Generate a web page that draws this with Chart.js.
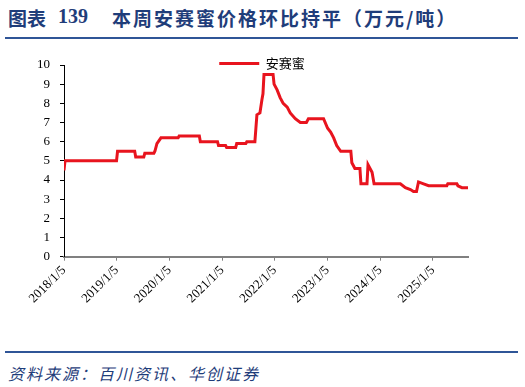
<!DOCTYPE html>
<html>
<head>
<meta charset="utf-8">
<script src="https://cdn.jsdelivr.net/npm/chart.js@4.4.0/dist/chart.umd.min.js"></script>
<style>
  html, body { margin: 0; padding: 0; background: #fff; }
  #page { position: relative; width: 525px; height: 387px; overflow: hidden; }
  .t { position: absolute; top: 4px; color: #1f3d7a; font-weight: bold; font-size: 19px; white-space: nowrap; font-family: 'Noto Sans CJK SC', sans-serif; }
  .num { font-family: 'Liberation Serif', serif; font-size: 20px; }
  .rule { position: absolute; left: 5px; width: 513px; height: 2px; background: #2f5597; }
  .src { position: absolute; left: 8px; top: 361px; font-size: 16px; letter-spacing: 2px; font-style: italic; color: #1f3d7a; font-family: 'Noto Sans CJK SC', sans-serif; white-space: nowrap; }
  #wrap { position: absolute; left: 0; top: 40px; width: 525px; height: 310px; }
</style>
</head>
<body>
<div id="page">
  <div class="t" style="left:8px">图表</div>
  <div class="t num" style="left:58px;top:5px">139</div>
  <div class="t" style="left:112px;letter-spacing:2px">本周安赛蜜价格环比持平（万元/吨）</div>
  <div class="rule" style="top:37px"></div>
  <div id="wrap"><canvas id="chart-ansaimi"></canvas></div>
  <div class="rule" style="top:351px"></div>
  <div class="src">资料来源：百川资讯、华创证券</div>
</div>
<script>
// 安赛蜜 price, 万元/吨, corner points
const dates = [
  '2018/1/5', '2018/1/12', '2019/1/4', '2019/1/11', '2019/5/10', '2019/5/17',
  '2019/7/12', '2019/7/19', '2019/9/20', '2019/9/27', '2019/10/11', '2019/11/8',
  '2020/3/6', '2020/3/13', '2020/7/31', '2020/8/7', '2020/12/4', '2020/12/11',
  '2021/1/29', '2021/2/5', '2021/4/9', '2021/4/16', '2021/6/18', '2021/6/25',
  '2021/8/20', '2021/8/27', '2021/9/3', '2021/9/24', '2021/10/8', '2021/10/15',
  '2021/10/22', '2021/12/24', '2021/12/31', '2022/1/21', '2022/2/11', '2022/3/4',
  '2022/4/1', '2022/4/22', '2022/5/27', '2022/7/1', '2022/8/12', '2022/8/26',
  '2022/12/9', '2023/1/6', '2023/1/27', '2023/2/17', '2023/3/10', '2023/4/7',
  '2023/6/16', '2023/6/23', '2023/7/14', '2023/8/18', '2023/8/25', '2023/10/6',
  '2023/10/13', '2023/11/10', '2023/11/24', '2024/5/24', '2024/6/28', '2024/8/2',
  '2024/8/23', '2024/9/13', '2024/9/27', '2024/11/1', '2024/12/6', '2025/4/11',
  '2025/4/18', '2025/6/20', '2025/6/27', '2025/7/25', '2025/9/5'
];
const prices = [
  4.5, 5.0, 5.0, 5.5, 5.5, 5.2,
  5.2, 5.4, 5.4, 5.5, 5.9, 6.2,
  6.2, 6.3, 6.3, 6.0, 6.0, 5.8,
  5.8, 5.7, 5.7, 5.9, 5.9, 6.0,
  6.0, 6.7, 7.4, 7.5, 8.2, 8.5,
  9.5, 9.5, 9.0, 8.7, 8.3, 8.0,
  7.8, 7.5, 7.2, 7.0, 7.0, 7.2,
  7.2, 6.7, 6.5, 6.2, 5.8, 5.5,
  5.5, 4.9, 4.6, 4.6, 3.8, 3.8,
  4.8, 4.4, 3.8, 3.8, 3.6, 3.5,
  3.4, 3.4, 3.9, 3.8, 3.7, 3.7,
  3.8, 3.8, 3.7, 3.6, 3.6
];
const tickLabels = ['2018/1/5', '2019/1/5', '2020/1/5', '2021/1/5', '2022/1/5', '2023/1/5', '2024/1/5', '2025/1/5'];
const seriesName = '安赛蜜';

function toMs(s) {
  const [y, m, d] = s.split('/').map(Number);
  return Date.UTC(y, m - 1, d);
}

const axisFont = { family: "'Liberation Serif', 'Times New Roman', serif", size: 13 };

// legend overlaps the top edge of the plot: no layout height, box moved after layout
const legendOverlay = {
  id: 'legendOverlay',
  beforeInit(chart) {
    const fit = chart.legend.fit;
    chart.legend.fit = function () { fit.call(this); this.height = 0; };
  },
  afterLayout(chart) {
    const lg = chart.legend;
    lg.left = 56;
    lg.width = lg.right - lg.left;
    lg.top = 17;
    lg.bottom = 40;
    lg.height = 23;
  }
};

new Chart(document.getElementById('chart-ansaimi'), {
  type: 'line',
  data: {
    datasets: [{
      label: seriesName,
      data: dates.map((d, i) => ({ x: toMs(d), y: prices[i] })),
      borderColor: '#e8141e',
      backgroundColor: '#e8141e',
      borderWidth: 3,
      pointRadius: 0,
      tension: 0,
      fill: false
    }]
  },
  plugins: [legendOverlay],
  options: {
    responsive: true,
    maintainAspectRatio: false,
    animation: false,
    layout: { padding: { top: 25, right: 57, left: 0, bottom: 0 } },
    plugins: {
      tooltip: { enabled: false },
      legend: {
        position: 'top',
        align: 'center',
        labels: {
          usePointStyle: true,
          pointStyle: 'line',
          pointStyleWidth: 40,
          color: '#000',
          padding: 0,
          font: { family: "'Noto Sans CJK SC', sans-serif", size: 13 }
        }
      }
    },
    scales: {
      x: {
        type: 'linear',
        min: toMs(dates[0]),
        max: toMs(dates[dates.length - 1]),
        afterBuildTicks: s => { s.ticks = tickLabels.map(t => ({ value: toMs(t) })); },
        afterFit: s => { s.height = 93.3; },
        ticks: {
          autoSkip: false,
          minRotation: 45,
          maxRotation: 45,
          padding: 2,
          color: '#000',
          font: axisFont,
          callback: (v, i) => tickLabels[i]
        },
        grid: { drawOnChartArea: false, tickLength: 4, tickColor: '#808080' },
        border: { color: '#808080', width: 2 }
      },
      y: {
        min: 0,
        max: 10,
        afterFit: s => { s.width = 64; },
        ticks: { stepSize: 1, padding: 10, color: '#000', font: axisFont },
        grid: { drawOnChartArea: false, tickLength: 4, tickColor: '#000' },
        border: { color: '#000', width: 1 }
      }
    }
  }
});
</script>
</body>
</html>
